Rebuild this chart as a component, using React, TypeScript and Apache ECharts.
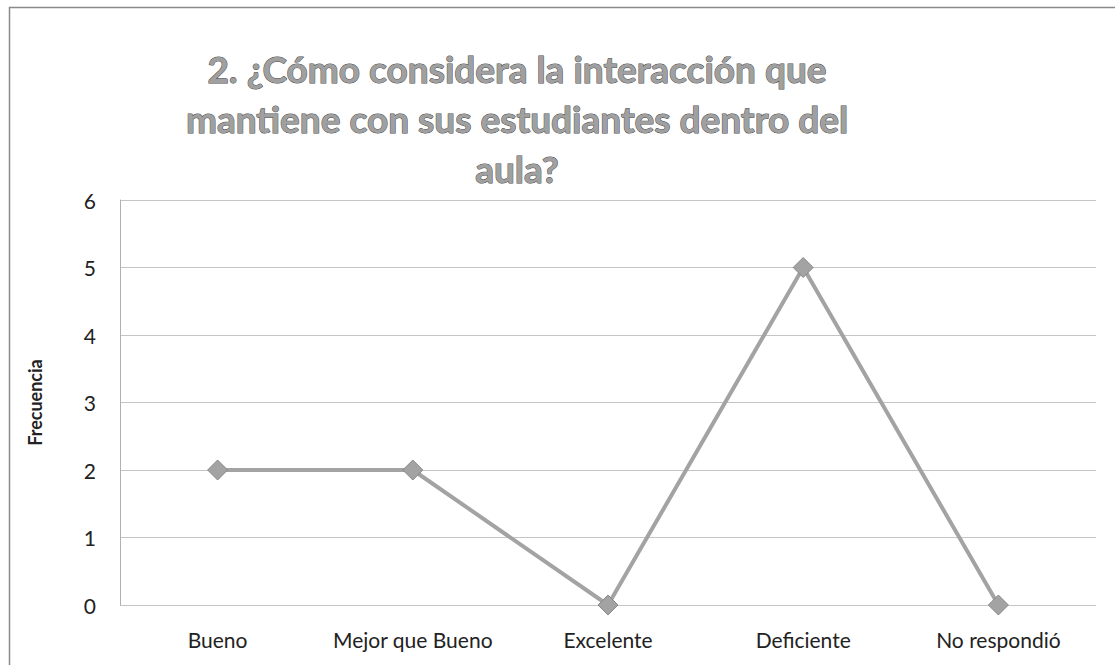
import React, { useEffect, useRef } from "react";
import * as echarts from "echarts";

const categories = ["Bueno", "Mejor que Bueno", "Excelente", "Deficiente", "No respondió"];
const frecuencia = [2, 2, 0, 5, 0];
const titleText = "2. ¿Cómo considera la interacción que\nmantiene con sus estudiantes dentro del\naula?";
const yAxisName = "Frecuencia";

export default function App() {
  const ref = useRef<HTMLDivElement>(null);
  useEffect(() => {
    document.body.style.margin = "0";
    const chart = echarts.init(ref.current!, undefined, { renderer: "svg" });
    chart.setOption({
      animation: false,
      backgroundColor: "#ffffff",
      title: {
        text: titleText,
        left: 512,
        top: 38,
        textAlign: "center",
        textStyle: {
          fontFamily: "Lato, 'Open Sans', sans-serif",
          fontSize: 37,
          fontWeight: "bold",
          color: "#a0a0a0",
          textBorderColor: "#4a4a4a",
          textBorderWidth: 1,
          lineHeight: 50,
        },
      },
      graphic: [
        {
          type: "rect",
          shape: { x: 9.5, y: 7.5, width: 1120, height: 680 },
          style: { fill: "none", stroke: "#8a8a8a", lineWidth: 1.5 },
          silent: true,
        },
      ],
      grid: { left: 120, right: 19, top: 200, bottom: 60 },
      xAxis: {
        type: "category",
        data: categories,
        boundaryGap: true,
        axisLine: { show: false },
        axisTick: { show: false },
        axisLabel: {
          interval: 0,
          margin: 24,
          fontFamily: "Lato, 'Open Sans', sans-serif",
          fontSize: 21,
          color: "#222",
        },
      },
      yAxis: {
        type: "value",
        min: 0,
        max: 6,
        interval: 1,
        name: yAxisName,
        nameLocation: "middle",
        nameGap: 76,
        nameTextStyle: {
          fontFamily: "Lato, 'Open Sans', sans-serif",
          fontSize: 18,
          fontWeight: "bold",
          color: "#222",
        },
        axisLine: { show: true, lineStyle: { color: "#b0b0b0", width: 1 } },
        axisTick: { show: false },
        axisLabel: {
          margin: 24,
          fontFamily: "Lato, 'Open Sans', sans-serif",
          fontSize: 21,
          color: "#222",
        },
        splitLine: { show: true, lineStyle: { color: "#c4c4c4", width: 1 } },
      },
      series: [
        {
          type: "line",
          data: frecuencia,
          symbol: "diamond",
          symbolSize: 20,
          lineStyle: { color: "#a3a3a3", width: 4 },
          itemStyle: { color: "#a3a3a3", borderColor: "#888", borderWidth: 1 },
        },
      ],
    });
    return () => chart.dispose();
  }, []);
  return <div ref={ref} style={{ width: 1115, height: 665 }} />;
}
